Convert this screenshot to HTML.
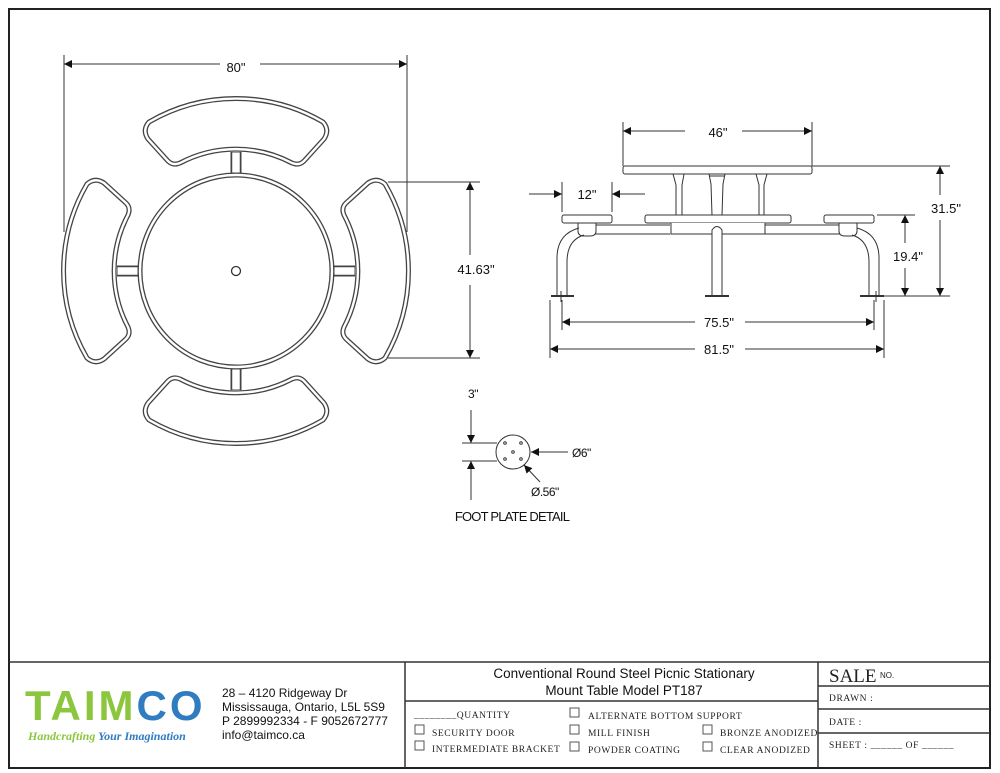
<!DOCTYPE html>
<html><head><meta charset="utf-8"><style>
body{margin:0;background:#fff;width:1000px;height:773px;overflow:hidden}
svg{display:block}
.t{font-family:"Liberation Sans",sans-serif;fill:#111}
.m{font-family:"Liberation Serif",serif;fill:#222;font-size:9.5px;letter-spacing:0.6px}
</style></head><body>
<svg width="1000" height="773" viewBox="0 0 1000 773" xmlns="http://www.w3.org/2000/svg">
<defs>
<marker id="a" viewBox="0 0 10 10" refX="10" refY="5" markerWidth="12" markerHeight="8" orient="auto-start-reverse" markerUnits="userSpaceOnUse"><path d="M0,0L10,5L0,10z" fill="#111"/></marker>
<path id="bench" d="M-87,-149 A173,173 0 0 1 87,-149 Q94,-141 88,-132 L68,-110 Q63,-105 56,-108 A120,120 0 0 0 -56,-108 Q-63,-105 -68,-110 L-88,-132 Q-94,-141 -87,-149 Z"/>
</defs>
<rect x="9" y="9" width="981" height="759" fill="none" stroke="#222" stroke-width="2"/>
<!-- top view -->
<g transform="translate(236,271)" fill="none">
<g stroke="#444" stroke-width="5"><circle r="96"/>
<use href="#bench"/><use href="#bench" transform="rotate(90)"/><use href="#bench" transform="rotate(180)"/><use href="#bench" transform="rotate(270)"/>
<path d="M0,-98V-119M0,98V119M-98,0H-119M98,0H119" stroke-width="11"/></g>
<g stroke="#fff" stroke-width="2.4"><circle r="96"/>
<use href="#bench"/><use href="#bench" transform="rotate(90)"/><use href="#bench" transform="rotate(180)"/><use href="#bench" transform="rotate(270)"/>
<path d="M0,-98.5V-118.5M0,98.5V118.5M-98.5,0H-118.5M98.5,0H118.5" stroke-width="7.5"/></g>
<circle r="4.5" stroke="#333" stroke-width="1.3"/>
</g>
<!-- dimensions top view -->
<g stroke="#333" stroke-width="1" fill="none">
<path d="M64,55V232M407,55V232M388,182H480M388,358H480"/>
<path d="M64,64H220M260,64H407" marker-start="url(#a)" marker-end="url(#a)"/>
<path d="M470,182V255M470,285V358" marker-start="url(#a)" marker-end="url(#a)"/>
</g>
<text class="t" x="236" y="72" font-size="13" text-anchor="middle">80"</text>
<text class="t" x="476" y="274" font-size="13" text-anchor="middle">41.63"</text>
<!-- side view -->
<g stroke="#333" stroke-width="1" fill="#fff">
<rect x="623" y="166" width="189" height="8" rx="2"/>
<path d="M673,174 L676,185 L676,215 M684,174 L682,185 L682,215 M756,174 L759,185 L759,215 M767,174 L764,185 L764,215" fill="none"/>
<path d="M709,174 L711,184 L712,215 M725,174 L723,184 L722,215 M709,176H725" fill="none"/>
<rect x="562" y="215" width="50" height="8" rx="2"/>
<rect x="645" y="215" width="146" height="8" rx="2"/>
<rect x="824" y="215" width="50" height="8" rx="2"/>
<path d="M586,225H670M765,225H840M586,234H670M765,234H840" fill="none"/>
<path d="M671,223V234H765V223" />
<path d="M578,223 v8 q0,5 6,5 h6 q6,0 6,-5 v-8z"/>
<path d="M839,223 v8 q0,5 6,5 h6 q6,0 6,-5 v-8z"/>
<path d="M579,228 Q557,234 557,258 V296 M584,235 Q567,240 567,262 V296" fill="none"/>
<path d="M857,228 Q879,234 879,258 V296 M852,235 Q869,240 869,262 V296" fill="none"/>
<path d="M712,296V230 Q717,223 722,230 V296" />
<path d="M551,296H574M705,296H729M860,296H884" stroke-width="2"/>
<path d="M561,291V302M876,291V302" />
</g>
<!-- side dims -->
<g stroke="#333" stroke-width="1" fill="none">
<path d="M623,122V166M812,122V166M562,182V212M612,182V212M812,166H950M877,215H915M884,296H950M550,300V358M562,300V330M874,300V330M884,300V358"/>
<path d="M623,131H685M742,131H812" marker-start="url(#a)" marker-end="url(#a)"/>
<path d="M529,194H562" marker-end="url(#a)"/>
<path d="M645,194H612" marker-end="url(#a)"/>
<path d="M940,166V195M940,220V296" marker-start="url(#a)" marker-end="url(#a)"/>
<path d="M905,215V243M905,268V296" marker-start="url(#a)" marker-end="url(#a)"/>
<path d="M562,322H695M745,322H874" marker-start="url(#a)" marker-end="url(#a)"/>
<path d="M550,349H695M745,349H884" marker-start="url(#a)" marker-end="url(#a)"/>
</g>
<text class="t" x="718" y="137" font-size="13" text-anchor="middle">46"</text>
<text class="t" x="587" y="199" font-size="13" text-anchor="middle">12"</text>
<text class="t" x="946" y="213" font-size="13" text-anchor="middle">31.5"</text>
<text class="t" x="908" y="261" font-size="13" text-anchor="middle">19.4"</text>
<text class="t" x="719" y="327" font-size="13" text-anchor="middle">75.5"</text>
<text class="t" x="719" y="354" font-size="13" text-anchor="middle">81.5"</text>
<!-- foot plate -->
<g stroke="#333" stroke-width="1" fill="none">
<circle cx="513" cy="452" r="17"/>
<circle cx="505" cy="443" r="1.3"/><circle cx="521" cy="443" r="1.3"/><circle cx="513" cy="452" r="1.3"/><circle cx="505" cy="459" r="1.3"/><circle cx="521" cy="459" r="1.3"/>
<path d="M462,443H497M462,461H497"/>
<path d="M471,410V443" marker-end="url(#a)"/>
<path d="M471,500V461" marker-end="url(#a)"/>
<path d="M568,452H531" marker-end="url(#a)"/>
<path d="M540,482L524,465" marker-end="url(#a)"/>
</g>
<text class="t" x="473" y="398" font-size="12" text-anchor="middle" letter-spacing="-0.5">3"</text>
<text class="t" x="572" y="457" font-size="12" letter-spacing="-0.5">Ø6"</text>
<text class="t" x="531" y="496" font-size="12" letter-spacing="-0.5">Ø.56"</text>
<text class="t" x="512" y="521" font-size="13" text-anchor="middle" letter-spacing="-0.8">FOOT PLATE DETAIL</text>
<!-- title block -->
<g stroke="#333" stroke-width="1.5" fill="none">
<path d="M9,662H990M405,662V768M818,662V768M405,701H818M818,686H990M818,709H990M818,733H990"/>
</g>
<text x="25" y="720" font-family="Liberation Sans,sans-serif" font-weight="bold" font-size="42" fill="#8cc63f" letter-spacing="3">TAIM<tspan fill="#2f7cc1">CO</tspan></text>
<text x="28" y="740" font-family="Liberation Serif,serif" font-style="italic" font-weight="bold" font-size="12" fill="#8cc63f">Handcrafting <tspan fill="#2f7cc1">Your Imagination</tspan></text>
<g class="t" font-size="12"><text x="222" y="697">28 – 4120 Ridgeway Dr</text><text x="222" y="711">Mississauga, Ontario, L5L 5S9</text><text x="222" y="725">P 2899992334 - F 9052672777</text><text x="222" y="739">info@taimco.ca</text></g>
<text class="t" x="624" y="678" font-size="13.5" text-anchor="middle">Conventional Round Steel Picnic Stationary</text>
<text class="t" x="624" y="695" font-size="13.5" text-anchor="middle">Mount Table Model PT187</text>
<g class="m"><text x="414" y="718">________QUANTITY</text>
<text x="432" y="736">SECURITY DOOR</text><text x="432" y="752">INTERMEDIATE BRACKET</text>
<text x="588" y="719">ALTERNATE BOTTOM SUPPORT</text><text x="588" y="736">MILL FINISH</text><text x="588" y="753">POWDER COATING</text>
<text x="720" y="736">BRONZE ANODIZED</text><text x="720" y="753">CLEAR ANODIZED</text>
<text x="829" y="701">DRAWN :</text><text x="829" y="725">DATE :</text><text x="829" y="748">SHEET :  ______  OF ______</text></g>
<g fill="none" stroke="#555" stroke-width="1"><rect x="415" y="725" width="9" height="9"/><rect x="415" y="741" width="9" height="9"/><rect x="570" y="708" width="9" height="9"/><rect x="570" y="725" width="9" height="9"/><rect x="570" y="742" width="9" height="9"/><rect x="703" y="725" width="9" height="9"/><rect x="703" y="742" width="9" height="9"/></g>
<text x="829" y="682" font-family="Liberation Serif,serif" font-size="19" fill="#222">SALE</text>
<text x="880" y="678" font-family="Liberation Sans,sans-serif" font-size="8" fill="#222">NO.</text>
</svg>
</body></html>
